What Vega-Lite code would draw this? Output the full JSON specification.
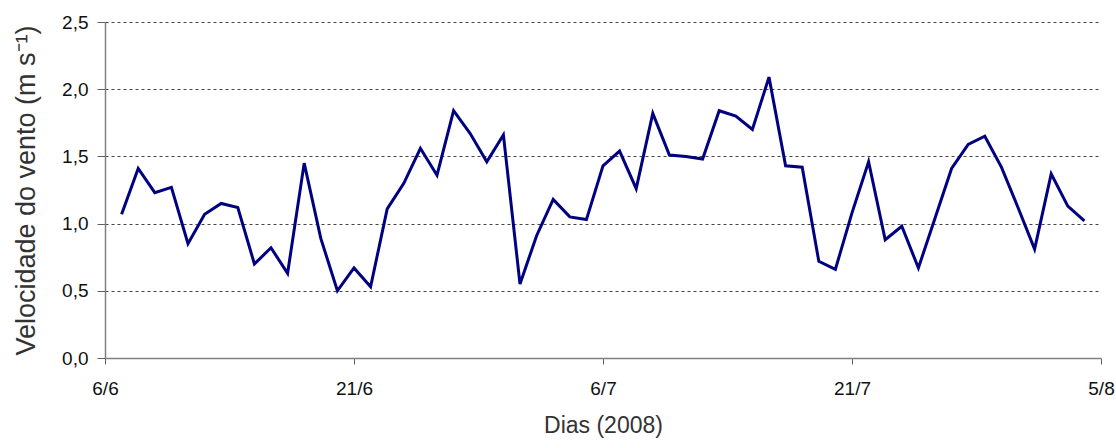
{
  "$schema": "https://vega.github.io/schema/vega-lite/v6.json",
  "autosize": "none",
  "width": 996,
  "height": 336,
  "padding": {"left": 105, "top": 22, "right": 15, "bottom": 90},
  "background": "white",
  "config": {
    "view": {"stroke": null},
    "font": "Liberation Sans"
  },
  "data": {
    "values": [
      {"data": "2008-06-07", "vel": 1.07},
      {"data": "2008-06-08", "vel": 1.41},
      {"data": "2008-06-09", "vel": 1.23},
      {"data": "2008-06-10", "vel": 1.27},
      {"data": "2008-06-11", "vel": 0.85},
      {"data": "2008-06-12", "vel": 1.07},
      {"data": "2008-06-13", "vel": 1.15},
      {"data": "2008-06-14", "vel": 1.12},
      {"data": "2008-06-15", "vel": 0.70},
      {"data": "2008-06-16", "vel": 0.82},
      {"data": "2008-06-17", "vel": 0.63},
      {"data": "2008-06-18", "vel": 1.45},
      {"data": "2008-06-19", "vel": 0.89},
      {"data": "2008-06-20", "vel": 0.50},
      {"data": "2008-06-21", "vel": 0.67},
      {"data": "2008-06-22", "vel": 0.53},
      {"data": "2008-06-23", "vel": 1.11},
      {"data": "2008-06-24", "vel": 1.30},
      {"data": "2008-06-25", "vel": 1.56},
      {"data": "2008-06-26", "vel": 1.36},
      {"data": "2008-06-27", "vel": 1.84},
      {"data": "2008-06-28", "vel": 1.67},
      {"data": "2008-06-29", "vel": 1.46},
      {"data": "2008-06-30", "vel": 1.66},
      {"data": "2008-07-01", "vel": 0.55},
      {"data": "2008-07-02", "vel": 0.91},
      {"data": "2008-07-03", "vel": 1.18},
      {"data": "2008-07-04", "vel": 1.05},
      {"data": "2008-07-05", "vel": 1.03},
      {"data": "2008-07-06", "vel": 1.43},
      {"data": "2008-07-07", "vel": 1.54},
      {"data": "2008-07-08", "vel": 1.26},
      {"data": "2008-07-09", "vel": 1.82},
      {"data": "2008-07-10", "vel": 1.51},
      {"data": "2008-07-11", "vel": 1.50},
      {"data": "2008-07-12", "vel": 1.48},
      {"data": "2008-07-13", "vel": 1.84},
      {"data": "2008-07-14", "vel": 1.80},
      {"data": "2008-07-15", "vel": 1.70},
      {"data": "2008-07-16", "vel": 2.09},
      {"data": "2008-07-17", "vel": 1.43},
      {"data": "2008-07-18", "vel": 1.42},
      {"data": "2008-07-19", "vel": 0.72},
      {"data": "2008-07-20", "vel": 0.66},
      {"data": "2008-07-21", "vel": 1.08},
      {"data": "2008-07-22", "vel": 1.46},
      {"data": "2008-07-23", "vel": 0.88},
      {"data": "2008-07-24", "vel": 0.98},
      {"data": "2008-07-25", "vel": 0.67},
      {"data": "2008-07-26", "vel": 1.04},
      {"data": "2008-07-27", "vel": 1.41},
      {"data": "2008-07-28", "vel": 1.59},
      {"data": "2008-07-29", "vel": 1.65},
      {"data": "2008-07-30", "vel": 1.42},
      {"data": "2008-07-31", "vel": 1.12},
      {"data": "2008-08-01", "vel": 0.81},
      {"data": "2008-08-02", "vel": 1.37},
      {"data": "2008-08-03", "vel": 1.13},
      {"data": "2008-08-04", "vel": 1.02}
    ]
  },
  "mark": {"type": "line", "color": "#000080", "strokeWidth": 3, "strokeJoin": "miter", "clip": false},
  "encoding": {
    "x": {
      "field": "data",
      "type": "temporal",
      "scale": {
        "type": "utc",
        "domain": [
          {"year": 2008, "month": 6, "date": 6, "utc": true},
          {"year": 2008, "month": 8, "date": 5, "utc": true}
        ],
        "nice": false
      },
      "axis": {
        "title": "Dias (2008)",
        "values": [
          {"year": 2008, "month": 6, "date": 6, "utc": true},
          {"year": 2008, "month": 6, "date": 21, "utc": true},
          {"year": 2008, "month": 7, "date": 6, "utc": true},
          {"year": 2008, "month": 7, "date": 21, "utc": true},
          {"year": 2008, "month": 8, "date": 5, "utc": true}
        ],
        "labelExpr": "utcFormat(datum.value, '%-d/%-m')",
        "grid": false,
        "domainColor": "#808080",
        "domainWidth": 1.5,
        "tickColor": "#606060",
        "tickSize": 6,
        "labelFontSize": 19,
        "labelColor": "#111111",
        "labelPadding": 15,
        "labelFlush": false,
        "labelOverlap": false,
        "titleFontSize": 23,
        "titleFontWeight": "normal",
        "titleColor": "#333333",
        "titlePadding": 16
      }
    },
    "y": {
      "field": "vel",
      "type": "quantitative",
      "scale": {"domain": [0, 2.5], "nice": false, "zero": true},
      "axis": {
        "title": "Velocidade do vento (m s⁻¹)",
        "values": [0, 0.5, 1, 1.5, 2, 2.5],
        "labelExpr": "replace(format(datum.value, '.1f'), '.', ',')",
        "grid": true,
        "gridColor": "#444444",
        "gridDash": [3, 3],
        "gridWidth": 1,
        "domainColor": "#808080",
        "domainWidth": 1.5,
        "tickColor": "#606060",
        "tickSize": 8,
        "labelFontSize": 19,
        "labelColor": "#111111",
        "labelPadding": 9,
        "labelFlush": false,
        "titleFontSize": 27,
        "titleFontWeight": "normal",
        "titleColor": "#333333",
        "titlePadding": 21
      }
    }
  }
}
